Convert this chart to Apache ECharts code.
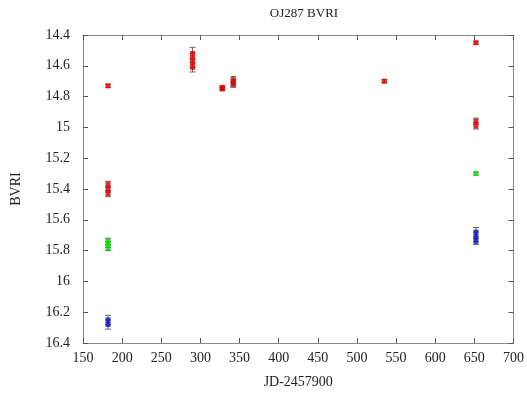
<!DOCTYPE html>
<html>
<head>
<meta charset="utf-8">
<title>OJ287 BVRI</title>
<script src="https://cdn.jsdelivr.net/npm/echarts@6/dist/echarts.min.js"></script>
<style>
  html, body { margin: 0; padding: 0; background: #fff; }
  #chart { width: 527px; height: 394px; }
</style>
</head>
<body>
<div id="chart"></div>
<script>
// [JD-2457900, magnitude, error]
var redPts = [
  [182, 14.73, 0.01],
  [182, 15.37, 0.02], [182, 15.40, 0.02], [182, 15.43, 0.02],
  [290, 14.52, 0.04], [290, 14.55, 0.03], [290, 14.58, 0.03], [290, 14.61, 0.03],
  [328, 14.74, 0.01], [328, 14.75, 0.01],
  [342, 14.69, 0.02], [342, 14.71, 0.02], [342, 14.72, 0.02],
  [535, 14.70, 0.01],
  [652, 14.45, 0.01],
  [652, 14.96, 0.02], [652, 14.99, 0.02]
];
var greenPts = [
  [182, 15.74, 0.02], [182, 15.76, 0.02], [182, 15.78, 0.02],
  [652, 15.30, 0.01]
];
var bluePts = [
  [182, 16.25, 0.03], [182, 16.28, 0.03],
  [652, 15.68, 0.03], [652, 15.71, 0.03], [652, 15.74, 0.02]
];
var xTicks = [150, 700, 50];
var yTicks = [14.4, 16.4, 0.2];

var font = '"Liberation Serif", "Times New Roman", serif';

function errBars(pts) {
  return pts.map(function (p) { return [p[0], p[1] - p[2], p[1] + p[2]]; });
}

function renderErr(params, api) {
  var x = api.value(0);
  var lo = api.coord([x, api.value(1)]);
  var hi = api.coord([x, api.value(2)]);
  var w = 3;
  var st = { stroke: '#666', lineWidth: 1 };
  return {
    type: 'group',
    children: [
      { type: 'line', shape: { x1: lo[0], y1: lo[1], x2: hi[0], y2: hi[1] }, style: st },
      { type: 'line', shape: { x1: lo[0] - w, y1: lo[1], x2: lo[0] + w, y2: lo[1] }, style: st },
      { type: 'line', shape: { x1: hi[0] - w, y1: hi[1], x2: hi[0] + w, y2: hi[1] }, style: st }
    ]
  };
}

var axisLine = { show: true, lineStyle: { color: '#888', width: 1 } };
var tick = { show: true, inside: true, length: 5, lineStyle: { color: '#555' } };
var lbl = { color: '#222', fontFamily: font, fontSize: 14 };

var chart = echarts.init(document.getElementById('chart'));
chart.setOption({
  animation: false,
  backgroundColor: '#fff',
  title: {
    text: 'OJ287 BVRI', left: 299, top: 2, textAlign: 'center',
    textStyle: { fontFamily: font, fontWeight: 'normal', fontSize: 13, color: '#222' }
  },
  grid: { left: 83, right: 12, top: 35, bottom: 51 },
  xAxis: [{
    type: 'value', min: xTicks[0], max: xTicks[1], interval: xTicks[2],
    name: 'JD-2457900', nameLocation: 'middle', nameGap: 32,
    nameTextStyle: { fontFamily: font, fontSize: 14, color: '#222' },
    axisLine: axisLine, axisTick: tick, splitLine: { show: false },
    axisLabel: Object.assign({ margin: 8 }, lbl)
  }, {
    type: 'value', position: 'top', min: xTicks[0], max: xTicks[1], interval: xTicks[2],
    axisLine: axisLine, axisTick: tick, axisLabel: { show: false }, splitLine: { show: false }
  }],
  yAxis: [{
    type: 'value', inverse: true, min: yTicks[0], max: yTicks[1], interval: yTicks[2],
    name: 'BVRI', nameLocation: 'middle', nameGap: 60, nameRotate: 90,
    nameTextStyle: { fontFamily: font, fontSize: 14, color: '#222' },
    axisLine: axisLine, axisTick: tick, splitLine: { show: false },
    axisLabel: Object.assign({ margin: 13, formatter: function (v) { return +v.toFixed(1) + ''; } }, lbl)
  }, {
    type: 'value', position: 'right', inverse: true, min: yTicks[0], max: yTicks[1], interval: yTicks[2],
    axisLine: axisLine, axisTick: tick, axisLabel: { show: false }, splitLine: { show: false }
  }],
  series: [
    { type: 'custom', renderItem: renderErr, data: errBars(redPts), encode: { x: 0, y: [1, 2] }, z: 1 },
    { type: 'custom', renderItem: renderErr, data: errBars(greenPts), encode: { x: 0, y: [1, 2] }, z: 1 },
    { type: 'custom', renderItem: renderErr, data: errBars(bluePts), encode: { x: 0, y: [1, 2] }, z: 1 },
    { type: 'scatter', data: redPts, symbol: 'rect', symbolSize: 5, itemStyle: { color: '#e00000' }, z: 2 },
    { type: 'scatter', data: greenPts, symbol: 'rect', symbolSize: 5, itemStyle: { color: '#10e010' }, z: 2 },
    { type: 'scatter', data: bluePts, symbol: 'rect', symbolSize: 5, itemStyle: { color: '#1010c0' }, z: 2 }
  ]
});
</script>
</body>
</html>
